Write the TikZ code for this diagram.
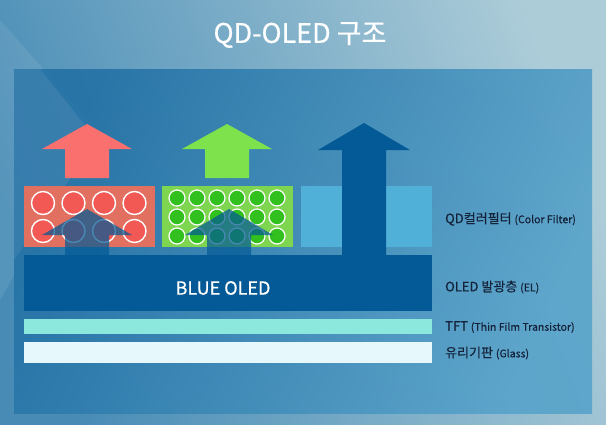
\documentclass[tikz,border=0pt]{standalone}
\usepackage{fontspec}
\setmainfont{Noto Sans CJK KR}
\newfontfamily\heavyfont{Noto Sans CJK KR}[FakeBold=0.6]
\definecolor{bgL}{RGB}{72,140,182}
\definecolor{bgR}{RGB}{172,204,216}
\definecolor{panL}{RGB}{34,112,164}
\definecolor{panM}{RGB}{158,202,218}
\definecolor{panR}{RGB}{86,162,202}
\definecolor{redbox}{RGB}{226,112,96}
\definecolor{redcirc}{RGB}{242,88,84}
\definecolor{redarr}{RGB}{250,112,110}
\definecolor{grnbox}{RGB}{126,214,80}
\definecolor{grncirc}{RGB}{50,192,30}
\definecolor{grnarr}{RGB}{126,226,76}
\definecolor{bluebox}{RGB}{80,176,216}
\definecolor{oled}{RGB}{3,90,150}
\definecolor{tft}{RGB}{140,232,220}
\definecolor{glass}{RGB}{230,248,252}
\definecolor{lbl}{RGB}{20,34,58}
\newcommand\uparr[7]{%
  \fill[#7] (#1,#2) -- ({#1+#3},#4) -- ({#1+#5},#4) -- ({#1+#5},#6) -- ({#1-#5},#6) -- ({#1-#5},#4) -- ({#1-#3},#4) -- cycle;}
\newcommand\subtxt{\fontsize{10.5}{12}\selectfont}
\tikzset{
  qdcirc/.style={draw=white, line width=1.4pt},
  lab/.style={anchor=west, text=lbl, font=\heavyfont\fontsize{13}{15}\selectfont, inner sep=0pt},
}
\begin{document}
\begin{tikzpicture}[x=1pt,y=-1pt]
\useasboundingbox (0,0) rectangle (606,424);
% background
\shade[left color=bgL, right color=bgR, shading angle=110] (0,0) rectangle (606,424);
\fill[white,opacity=0.08] (0,20) -- (97,130) -- (0,300) -- cycle;
% panel
\shade[left color=panL, middle color=panM, right color=panR, shading angle=65, opacity=0.88] (14,69) rectangle (592,413);
\fill[white,opacity=0.07] (14,69) -- (40,69) -- (97,140) -- (14,260) -- cycle;
% title
\node (title) [font=\heavyfont\fontsize{27}{30}\selectfont, text=white] at (300,35) {QD-OLED 구조};
% colour layers
\fill[redbox] (24,186) rectangle (155,247);
\foreach \r in {203,231}
  \foreach \c in {0,...,3}
    \draw[qdcirc, fill=redcirc] ({43+30.5*\c},\r) circle (11.5);
\fill[grnbox] (162,186) rectangle (293,247);
\foreach \r in {198,217,236}
  \foreach \c in {0,...,5}
    \draw[qdcirc, fill=grncirc, line width=1.2pt] ({177+20*\c},\r) circle (8);
\fill[bluebox] (301,186) rectangle (432,247);
% emitted light arrows
\uparr{87}{124}{45}{149}{22}{178}{redarr}
\uparr{227}{124}{45}{149}{22}{178}{grnarr}
% blue light passing through
\uparr{87}{209}{45}{235}{22}{255}{oled,opacity=0.72}
\uparr{229}{209}{44}{235}{22}{255}{oled,opacity=0.72}
\uparr{364}{123}{46}{150}{22}{255}{oled}
% stack
\fill[oled] (24,255) rectangle (432,311);
\node (blue) [text=white, font=\heavyfont\fontsize{18}{20}\selectfont] at (223,288) {BLUE OLED};
\fill[tft] (24,319) rectangle (432,334);
\fill[glass] (24,342) rectangle (432,363);
% labels
\node (l1) [lab] at (445,219) {QD컬러필터 {\subtxt (Color Filter)}};
\node (l2) [lab] at (445,287) {OLED 발광층 {\subtxt (EL)}};
\node (l3) [lab] at (445,327) {TFT {\subtxt (Thin Film Transistor)}};
\node (l4) [lab] at (445,353) {유리기판 {\subtxt (Glass)}};
\end{tikzpicture}
\end{document}
